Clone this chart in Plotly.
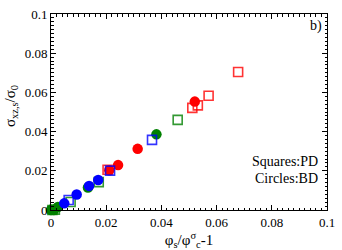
import plotly.graph_objects as go

# Squares (PD)
red_sq_x = [0.0205, 0.0512, 0.0532, 0.0571, 0.0678]
red_sq_y = [0.0205, 0.0521, 0.0534, 0.0583, 0.0704]
green_sq_x = [0.0005, 0.0014, 0.0071, 0.0173, 0.0459]
green_sq_y = [0.0, 0.0002, 0.0041, 0.0142, 0.0460]
blue_sq_x = [0.0064, 0.0214, 0.0366]
blue_sq_y = [0.0051, 0.0201, 0.0358]

# Circles (BD)
red_ci_x = [0.0211, 0.0243, 0.0314, 0.0521]
red_ci_y = [0.0203, 0.0229, 0.0312, 0.0553]
green_ci_x = [0.0, 0.0010, 0.0025, 0.0134, 0.0382]
green_ci_y = [0.0, 0.0, 0.0015, 0.0115, 0.0386]
blue_ci_x = [0.0048, 0.0093, 0.0138, 0.0171]
blue_ci_y = [0.0034, 0.0079, 0.0123, 0.0153]

RED = "rgb(255,0,0)"
GREEN = "rgb(0,128,0)"
BLUE = "rgb(0,0,255)"
SERIF = "Liberation Serif"

fig = go.Figure()

def sq(x, y, c):
    fig.add_trace(go.Scatter(x=x, y=y, mode="markers",
        marker=dict(symbol="square-open", size=9, color=c, line=dict(width=1.6, color=c), opacity=0.8),
        showlegend=False, cliponaxis=False))

def ci(x, y, c):
    fig.add_trace(go.Scatter(x=x, y=y, mode="markers",
        marker=dict(symbol="circle", size=10.5, color=c, line=dict(width=0)),
        showlegend=False, cliponaxis=False))

sq(green_sq_x, green_sq_y, GREEN)
ci(green_ci_x, green_ci_y, GREEN)
sq(red_sq_x, red_sq_y, RED)
ci(red_ci_x, red_ci_y, RED)
sq(blue_sq_x, blue_sq_y, BLUE)
ci(blue_ci_x, blue_ci_y, BLUE)

axis_common = dict(
    range=[0, 0.1], dtick=0.02, tick0=0,
    showgrid=False, zeroline=False,
    showline=True, linecolor="black", linewidth=1, mirror="ticks",
    ticks="inside", ticklen=5, tickwidth=1, tickcolor="black",
    minor=dict(dtick=0.002, ticks="inside", ticklen=2.5, tickcolor="black", tickwidth=1, showgrid=False),
    tickfont=dict(family=SERIF, size=13, color="black"),
)

fig.update_xaxes(**axis_common,
    title=dict(text="φ<sub>s</sub>/φ<sup>σ</sup><sub>c</sub>-1", standoff=2,
               font=dict(family=SERIF, size=15, color="black")))
fig.update_yaxes(**axis_common)

fig.add_annotation(text="σ<sub>xz,s</sub>/σ<sub>0</sub>", xref="paper", yref="paper",
                   x=0, xshift=-40, y=0.53, xanchor="center", yanchor="middle",
                   textangle=-90, showarrow=False,
                   font=dict(family=SERIF, size=15, color="black"))
fig.add_annotation(text="b)", xref="paper", yref="paper", x=0.99, y=0.99,
                   xanchor="right", yanchor="top", showarrow=False,
                   font=dict(family=SERIF, size=14, color="black"))
fig.add_annotation(text="Squares:PD", xref="paper", yref="paper",
                   x=0.975, y=0.246, xanchor="right", yanchor="middle", showarrow=False,
                   font=dict(family=SERIF, size=14, color="black"))
fig.add_annotation(text="Circles:BD", xref="paper", yref="paper",
                   x=0.975, y=0.163, xanchor="right", yanchor="middle", showarrow=False,
                   font=dict(family=SERIF, size=14, color="black"))

fig.update_layout(
    width=342, height=250,
    margin=dict(l=51, r=9, t=7, b=40),
    plot_bgcolor="white", paper_bgcolor="white",
    font=dict(family=SERIF, color="black"),
)

fig.write_html("out.html", config={"displayModeBar": False},
               post_script="document.body.style.margin='0';document.body.style.padding='0';")
